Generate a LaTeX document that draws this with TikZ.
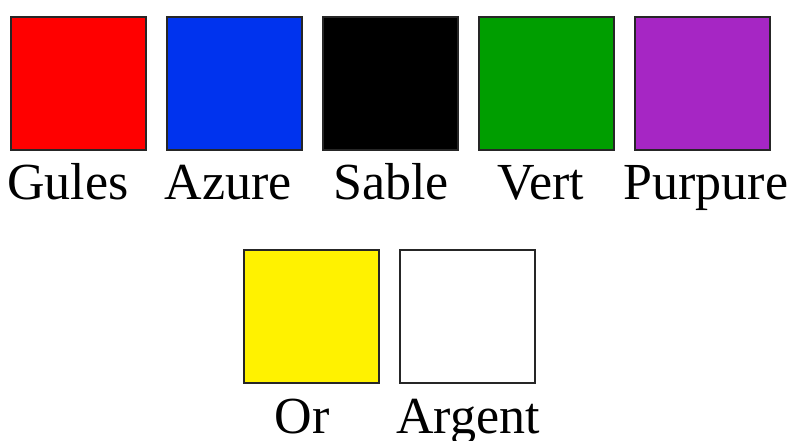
\documentclass[tikz,border=0pt]{standalone}
\usepackage{fontspec}
\setmainfont{Liberation Serif}
\definecolor{gules}{HTML}{FF0000}
\definecolor{azure}{HTML}{0033EE}
\definecolor{sable}{HTML}{000000}
\definecolor{vert}{HTML}{009E00}
\definecolor{purpure}{HTML}{A626C4}
\definecolor{or}{HTML}{FFF200}
\definecolor{argent}{HTML}{FFFFFF}
\tikzset{
  swatch/.style={draw=black!85, line width=2pt, minimum width=135pt, minimum height=133pt, inner sep=0pt, anchor=north west},
  tincture/.style={anchor=base, inner sep=0pt, font=\fontsize{52}{60}\selectfont}
}
\begin{document}
\begin{tikzpicture}[x=1pt,y=-1pt]
  \useasboundingbox (0,0) rectangle (801,441);
  % first row: colours
  \node[swatch, fill=gules]   (sg) at (10,16) {};
  \node[swatch, fill=azure]   (sa) at (166,16) {};
  \node[swatch, fill=sable]   (ss) at (322,16) {};
  \node[swatch, fill=vert]    (sv) at (478,16) {};
  \node[swatch, fill=purpure] (sp) at (634,16) {};
  \node[tincture] (lg) at (68,200) {Gules};
  \node[tincture] (la) at (228,200) {Azure};
  \node[tincture] (ls) at (391,200) {Sable};
  \node[tincture] (lv) at (541,200) {Vert};
  \node[tincture] (lp) at (706,200) {Purpure};
  % second row: metals
  \node[swatch, fill=or]     (so) at (243,249) {};
  \node[swatch, fill=argent] (sr) at (399,249) {};
  \node[tincture] (lo) at (302,433) {Or};
  \node[tincture] (lr) at (468,433) {Argent};
\end{tikzpicture}
\end{document}
